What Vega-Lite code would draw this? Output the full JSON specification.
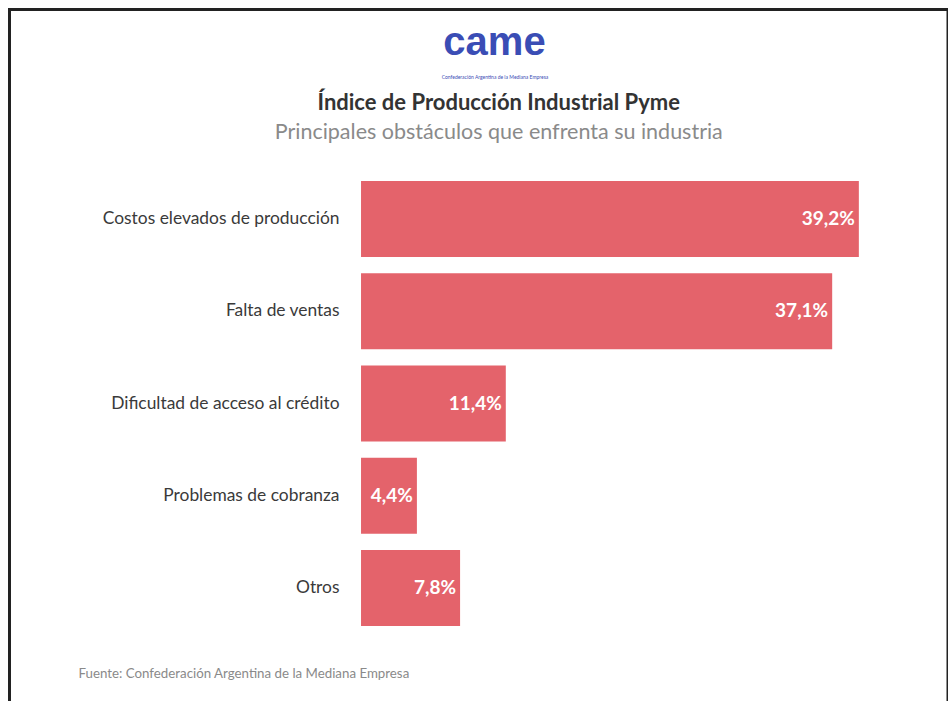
{
  "$schema": "https://vega.github.io/schema/vega-lite/v6.json",
  "description": "Principales obstáculos que enfrenta la industria pyme (CAME).",
  "autosize": "none",
  "width": 938.5,
  "height": 695,
  "padding": {"left": 9.5, "top": 9.5, "right": 0, "bottom": -4},
  "background": "white",
  "config": {
    "view": {"stroke": "#222", "strokeWidth": 3},
    "font": "Lato",
    "axis": {"grid": false},
    "locale": {"number": {"decimal": ",", "thousands": ".", "grouping": [3], "currency": ["$", ""]}}
  },
  "title": {
    "text": "Índice de Producción Industrial Pyme",
    "subtitle": "Principales obstáculos que enfrenta su industria",
    "anchor": "middle",
    "frame": "group",
    "orient": "top",
    "offset": -135,
    "dx": 20,
    "font": "Lato",
    "fontSize": 22,
    "fontWeight": "bold",
    "color": "#333333",
    "subtitleFont": "Lato",
    "subtitleFontSize": 21.5,
    "subtitleColor": "#8a8a8a",
    "subtitlePadding": 7
  },
  "data": {
    "values": [
      {"obstaculo": "Costos elevados de producción", "pct": 0.392},
      {"obstaculo": "Falta de ventas", "pct": 0.371},
      {"obstaculo": "Dificultad de acceso al crédito", "pct": 0.114},
      {"obstaculo": "Problemas de cobranza", "pct": 0.044},
      {"obstaculo": "Otros", "pct": 0.078}
    ]
  },
  "encoding": {
    "y": {
      "field": "obstaculo",
      "type": "nominal",
      "sort": null,
      "scale": {"range": [171.5, 616.5], "paddingInner": 0.176, "paddingOuter": 0},
      "axis": {
        "orient": "left",
        "offset": -333.5,
        "domain": false,
        "ticks": false,
        "tickSize": 0,
        "labelPadding": 4,
        "labelLimit": 400,
        "labelFont": "Lato",
        "labelFontSize": 17.4,
        "labelColor": "#3a3a3a",
        "title": "came",
        "titleAngle": 0,
        "titleX": 151,
        "titleY": 32.5,
        "titleAlign": "center",
        "titleBaseline": "middle",
        "titleFont": "Liberation Sans",
        "titleFontSize": 40,
        "titleFontWeight": "bold",
        "titleColor": "#3a4db5"
      }
    }
  },
  "layer": [
    {
      "mark": {"type": "bar", "color": "#e4636b"},
      "encoding": {
        "x": {
          "field": "pct",
          "type": "quantitative",
          "scale": {"domain": [-0.2768, 0.4622], "nice": false, "zero": false},
          "axis": {
            "orient": "bottom",
            "labels": false,
            "ticks": false,
            "domain": false,
            "grid": false,
            "title": "Fuente: Confederación Argentina de la Mediana Empresa",
            "titleX": 68.5,
            "titleY": -31.5,
            "titleAnchor": "start",
            "titleAlign": "left",
            "titleBaseline": "middle",
            "titleFont": "Lato",
            "titleFontSize": 13.3,
            "titleFontWeight": "normal",
            "titleColor": "#8a8a8a"
          }
        }
      }
    },
    {
      "mark": {"type": "text", "align": "right", "baseline": "middle", "dx": -4, "color": "white", "font": "Lato", "fontWeight": "bold", "fontSize": 19},
      "encoding": {
        "x": {
          "field": "pct",
          "type": "quantitative",
          "scale": {"domain": [-0.2768, 0.4622], "nice": false, "zero": false},
          "axis": {
            "orient": "top",
            "labels": false,
            "ticks": false,
            "domain": false,
            "grid": false,
            "title": "Confederación Argentina de la Mediana Empresa",
            "titleX": 485,
            "titleY": 66.5,
            "titleAlign": "center",
            "titleBaseline": "middle",
            "titleFont": "Lato",
            "titleFontSize": 5,
            "titleFontWeight": "normal",
            "titleColor": "#3a4db5"
          }
        },
        "text": {"field": "pct", "type": "quantitative", "format": ".1%"}
      }
    }
  ],
  "resolve": {"axis": {"x": "independent"}}
}
